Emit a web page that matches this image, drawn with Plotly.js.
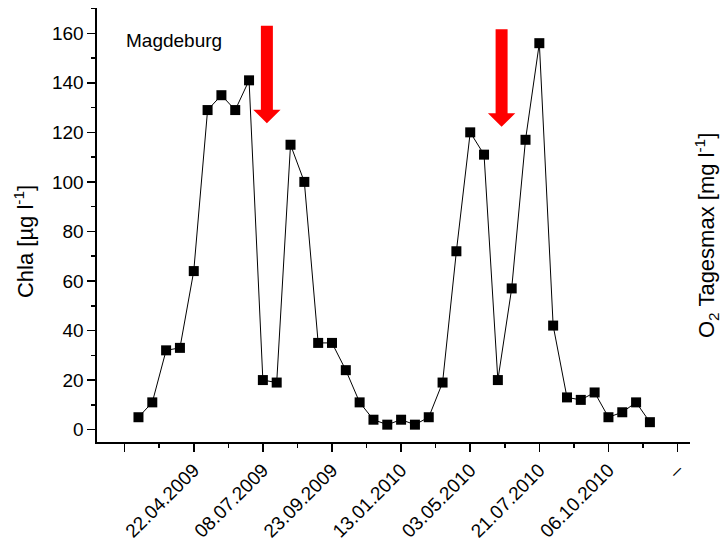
<!DOCTYPE html>
<html>
<head>
<meta charset="utf-8">
<script src="https://cdn.plot.ly/plotly-3.0.1.min.js"></script>
<style>html,body{margin:0;padding:0;background:#fff;}#chart{width:721px;height:547px;}</style>
</head>
<body>
<div id="chart"></div>
<script>
// Chla values (µg/l) per sampling index
const sampleIndex = [1,2,3,4,5,6,7,8,9,10,11,12,13,14,15,16,17,18,19,20,21,22,23,24,25,26,27,28,29,30,31,32,33,34,35,36,37,38];
const chla = [5,11,32,33,64,129,135,129,141,20,19,115,100,35,35,24,11,4,2,4,2,5,19,72,120,111,20,57,117,156,42,13,12,15,5,7,11,3];
// x tick positions and labels
const tickPos = [0,5,10,15,20,25,30,35,40];
const tickText = ['', '22.04.2009', '08.07.2009', '23.09.2009', '13.01.2010', '03.05.2010', '21.07.2010', '06.10.2010', '–'];
// red arrows (centre x, top, tip)
const arrowX = [10.29, 27.27];
const arrowTop = [163, 161.6];
const arrowTip = [123.7, 122.3];

const FONT = '"Liberation Sans", Arial, sans-serif';
const xRange = [-2, 40.9];
const yRange = [-5, 170.2];

const shaftHalf = 0.434, headHalf = 0.99, headLen = 5.4;
const shapes = arrowX.map((cx, i) => {
  const t = arrowTop[i], tip = arrowTip[i], hb = tip + headLen;
  const p = `M ${cx-shaftHalf} ${t} L ${cx+shaftHalf} ${t} L ${cx+shaftHalf} ${hb} L ${cx+headHalf} ${hb} L ${cx} ${tip} L ${cx-headHalf} ${hb} L ${cx-shaftHalf} ${hb} Z`;
  return {type:'path', xref:'x', yref:'y', path:p, fillcolor:'#ff0000', line:{width:0}, layer:'above'};
});

const trace = {
  x: sampleIndex, y: chla, type: 'scatter', mode: 'lines+markers',
  line: {color:'#000', width:1},
  marker: {symbol:'square', size:10, color:'#000'},
  showlegend: false, hoverinfo: 'x+y'
};

const layout = {
  width: 721, height: 547,
  margin: {l:97, r:31, t:8, b:105},
  paper_bgcolor: '#fff', plot_bgcolor: '#fff',
  font: {family: FONT, color:'#000', size:18},
  showlegend: false,
  xaxis: {
    range: xRange, tickmode:'array', tickvals: tickPos, ticktext: tickText,
    tickangle: -45, ticks:'outside', ticklen:8, tickwidth:1.5, tickcolor:'#000',
    minor: {dtick:2.5, tick0:0, ticks:'outside', ticklen:4, tickwidth:1.5, tickcolor:'#000'},
    showline:true, linewidth:1.6, linecolor:'#000', showgrid:false, zeroline:false,
    tickfont:{size:19, family:FONT}
  },
  xaxis2: {
    overlaying:'x', side:'top', anchor:'y', range:xRange, showticklabels:false,
    ticks:'inside', tick0:0, dtick:2.5, ticklen:4, tickcolor:'#bbbbbb', tickwidth:1,
    showline:true, linewidth:1.6, linecolor:'#000', showgrid:false, zeroline:false
  },
  yaxis: {
    range: yRange, tick0:0, dtick:20, ticks:'outside', ticklen:8, tickwidth:1.5, tickcolor:'#000',
    minor: {dtick:10, tick0:0, ticks:'outside', ticklen:4, tickwidth:1.5, tickcolor:'#000'},
    showline:true, linewidth:1.6, linecolor:'#000', showgrid:false, zeroline:false,
    tickfont:{size:19, family:FONT}
  },
  yaxis2: {
    overlaying:'y', side:'right', anchor:'x', range:yRange, showticklabels:false,
    ticks:'inside', tick0:11, dtick:14, ticklen:4, tickcolor:'#cccccc', tickwidth:1,
    showline:true, linewidth:1.6, linecolor:'#000', showgrid:false, zeroline:false
  },
  shapes: shapes,
  annotations: [
    {text:'Magdeburg', xref:'paper', yref:'paper', x:0.0455, y:0.926, xanchor:'left', yanchor:'middle',
     showarrow:false, font:{size:19, family:FONT}},
    {text:'Chla [µg l<sup>-1</sup>]', xref:'paper', yref:'paper', x:-0.123, y:(442-242)/434,
     xanchor:'center', yanchor:'middle', textangle:-90, showarrow:false, font:{size:22, family:FONT}},
    {text:'O<sub>2</sub> Tagesmax [mg l<sup>-1</sup>]', xref:'paper', yref:'paper', x:1+(707-690)/593, y:(442-236)/434,
     xanchor:'center', yanchor:'middle', textangle:-90, showarrow:false, font:{size:22, family:FONT}}
  ]
};

Plotly.newPlot('chart', [trace], layout, {displayModeBar:false, staticPlot:true});
</script>
</body>
</html>
